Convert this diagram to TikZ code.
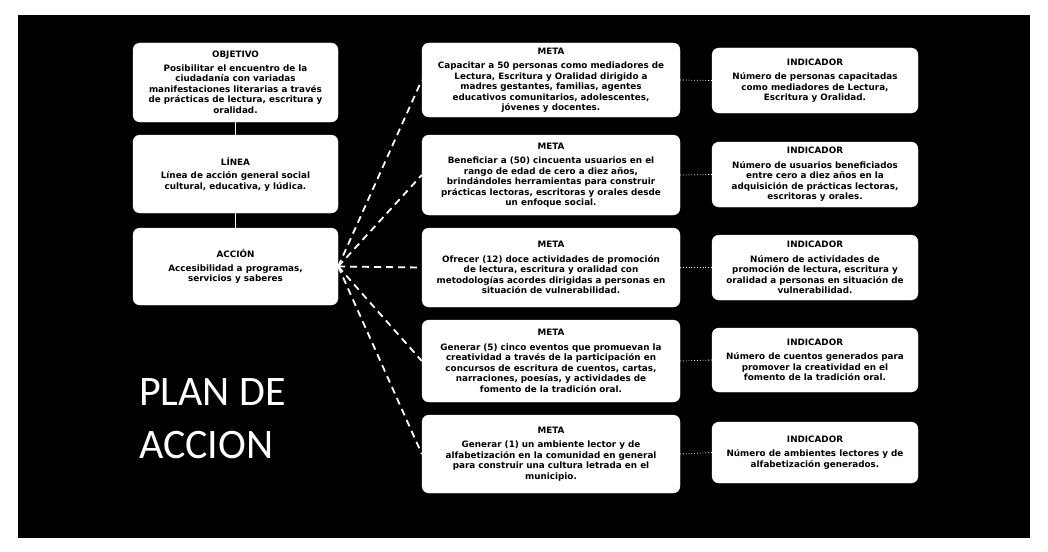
\documentclass[tikz,border=0pt]{standalone}
\usepackage{fontspec}
\setmainfont{DejaVu Sans}
\newfontfamily\planfont{Carlito}
\begin{document}
\begin{tikzpicture}[x=1pt,y=-1pt,
  box/.style={draw=white, fill=white, rounded corners=7pt, align=center,
    inner sep=0pt, text=black, font=\bfseries\fontsize{8.8}{10.5}\selectfont},
  leftbox/.style={box, minimum width=205pt},
  metabox/.style={box, minimum width=258pt},
  indbox/.style={box, minimum width=206pt},
  solidlink/.style={draw=white, line width=1.2pt},
  dashlink/.style={draw=white, line width=1.8pt, dash pattern=on 7pt off 5pt},
  dotlink/.style={draw=white, line width=0.8pt, dotted},
  plantext/.style={text=white, inner sep=0pt, font=\planfont\fontsize{42}{52}\selectfont}
]
\useasboundingbox (0,0) rectangle (1048,551);
\fill[white] (0,0) rectangle (1048,551);
\fill[black] (18,15) rectangle (1030,538);

% left column
\node[leftbox, minimum height=79pt] (obj) at (235.5,82.5)
  {OBJETIVO\\[3pt]Posibilitar el encuentro de la\\ciudadanía con variadas\\manifestaciones literarias a través\\de prácticas de lectura, escritura y\\oralidad.};
\node[leftbox, minimum height=78pt] (lin) at (235.5,174)
  {LÍNEA\\[3pt]Línea de acción general social\\cultural, educativa, y lúdica.};
\node[leftbox, minimum height=77pt] (acc) at (235.5,266.5)
  {ACCIÓN\\[3pt]Accesibilidad a programas,\\servicios y saberes};

% metas
\node[metabox, minimum height=74pt] (m1) at (551,80)
  {META\\[4pt]Capacitar a 50 personas como mediadores de\\Lectura, Escritura y Oralidad dirigido a\\madres gestantes, familias, agentes\\educativos comunitarios, adolescentes,\\jóvenes y docentes.};
\node[metabox, minimum height=80pt] (m2) at (551,175)
  {META\\[4pt]Beneficiar a (50) cincuenta usuarios en el\\rango de edad de cero a diez años,\\brindándoles herramientas para construir\\prácticas lectoras, escritoras y orales desde\\un enfoque social.};
\node[metabox, minimum height=79pt] (m3) at (551,267.5)
  {META\\[4pt]Ofrecer (12) doce actividades de promoción\\de lectura, escritura y oralidad con\\metodologías acordes dirigidas a personas en\\situación de vulnerabilidad.};
\node[metabox, minimum height=82pt] (m4) at (551,361)
  {META\\[4pt]Generar (5) cinco eventos que promuevan la\\creatividad a través de la participación en\\concursos de escritura de cuentos, cartas,\\narraciones, poesías, y actividades de\\fomento de la tradición oral.};
\node[metabox, minimum height=78pt] (m5) at (551,454)
  {META\\[4pt]Generar (1) un ambiente lector y de\\alfabetización en la comunidad en general\\para construir una cultura letrada en el\\municipio.};

% indicadores
\node[indbox, minimum height=65pt] (i1) at (815,80.5)
  {INDICADOR\\[4pt]Número de personas capacitadas\\como mediadores de Lectura,\\Escritura y Oralidad.};
\node[indbox, minimum height=65pt] (i2) at (815,174.5)
  {INDICADOR\\[4pt]Número de usuarios beneficiados\\entre cero a diez años en la\\adquisición de prácticas lectoras,\\escritoras y orales.};
\node[indbox, minimum height=65pt] (i3) at (815,267.5)
  {INDICADOR\\[4pt]Número de actividades de\\promoción de lectura, escritura y\\oralidad a personas en situación de\\vulnerabilidad.};
\node[indbox, minimum height=64pt] (i4) at (815,360)
  {INDICADOR\\[4pt]Número de cuentos generados para\\promover la creatividad en el\\fomento de la tradición oral.};
\node[indbox, minimum height=61pt] (i5) at (815,452.5)
  {INDICADOR\\[4pt]Número de ambientes lectores y de\\alfabetización generados.};

% title
\node[plantext, anchor=base west] (plan1) at (139,405) {PLAN DE};
\node[plantext, anchor=base west] (plan2) at (139,458) {ACCION};

% connectors
\draw[solidlink] (obj.south) -- (lin.north);
\draw[solidlink] (lin.south) -- (acc.north);
\foreach \m in {m1,m2,m3,m4,m5}
  \draw[dashlink] (acc.east) -- (\m.west);
\foreach \m/\i in {m1/i1,m2/i2,m3/i3,m4/i4,m5/i5}
  \draw[dotlink] (\m.east) -- (\i.west);
\end{tikzpicture}
\end{document}
